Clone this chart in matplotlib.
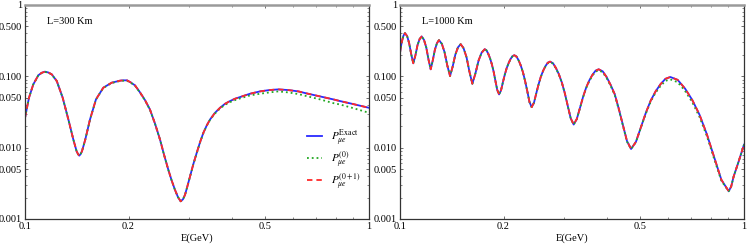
import matplotlib
matplotlib.use("Agg")
import matplotlib.pyplot as plt
from matplotlib.ticker import FixedLocator, FixedFormatter, LogLocator, NullFormatter

plt.rcParams['font.family'] = 'serif'
plt.rcParams['font.serif'] = ['Liberation Serif', 'DejaVu Serif']
plt.rcParams['mathtext.fontset'] = 'stix'

# L = 300 km
e_300 = [0.1000, 0.1027, 0.1057, 0.1093, 0.1118, 0.1143, 0.1169, 0.1196, 0.1237, 0.1287,
         0.1337, 0.1382, 0.1413, 0.1426, 0.1438, 0.1451, 0.1464, 0.1497, 0.1545, 0.1608,
         0.1689, 0.1786, 0.1888, 0.1931, 0.1979, 0.2028, 0.2088, 0.2160, 0.2233, 0.2308,
         0.2387, 0.2469, 0.2536, 0.2610, 0.2669, 0.2729, 0.2785, 0.2835, 0.2879, 0.2918,
         0.2964, 0.3018, 0.3086, 0.3155, 0.3227, 0.3299, 0.3374, 0.3450, 0.3567, 0.3689,
         0.3814, 0.3944, 0.4078, 0.4217, 0.4509, 0.4822, 0.5132, 0.5449, 0.5828, 0.6231,
         0.6589, 0.7204, 0.7876, 0.8236, 0.9005, 1.0]
p_exact_300 = [0.0262, 0.0501, 0.0771, 0.1033, 0.1120, 0.1163, 0.1132, 0.1067, 0.0860, 0.0501,
               0.0248, 0.0130, 0.00888, 0.00814, 0.00772, 0.00814, 0.00888, 0.0130, 0.0248, 0.0475,
               0.0693, 0.0814, 0.0869, 0.0879, 0.0879, 0.0823, 0.0747, 0.0595, 0.0464, 0.0343,
               0.0218, 0.0130, 0.00797, 0.00490, 0.00347, 0.00256, 0.00202, 0.00177, 0.00189, 0.00218,
               0.00285, 0.00395, 0.00589, 0.00841, 0.0119, 0.0161, 0.0204, 0.0248, 0.0308, 0.0362,
               0.0412, 0.0450, 0.0485, 0.0512, 0.0570, 0.0615, 0.0642, 0.0656, 0.0642, 0.0615,
               0.0576, 0.0523, 0.0475, 0.0450, 0.0408, 0.0362]
p_zero_300 = [0.0262, 0.0501, 0.0771, 0.1030, 0.1115, 0.1155, 0.1125, 0.1060, 0.0855, 0.0499,
              0.0247, 0.0130, 0.00888, 0.00814, 0.00772, 0.00814, 0.00888, 0.0130, 0.0247, 0.0472,
              0.0688, 0.0806, 0.0860, 0.0868, 0.0868, 0.0815, 0.0740, 0.0590, 0.0460, 0.0340,
              0.0217, 0.0129, 0.00794, 0.00488, 0.00346, 0.00255, 0.00202, 0.00177, 0.00189, 0.00217,
              0.00284, 0.00392, 0.00584, 0.00832, 0.0118, 0.0159, 0.0202, 0.0245, 0.0301, 0.0354,
              0.0399, 0.0435, 0.0464, 0.0490, 0.0540, 0.0570, 0.0595, 0.0615, 0.0595, 0.0564,
              0.0528, 0.0475, 0.0421, 0.0403, 0.0358, 0.0308]
p_first_300 = p_exact_300

# L = 1000 km
e_1000 = [0.1000, 0.1011, 0.1023, 0.1034, 0.1049, 0.1063, 0.1078, 0.1093, 0.1109, 0.1124,
          0.1140, 0.1156, 0.1174, 0.1192, 0.1210, 0.1228, 0.1245, 0.1263, 0.1281, 0.1298,
          0.1323, 0.1347, 0.1372, 0.1398, 0.1423, 0.1448, 0.1474, 0.1501, 0.1530, 0.1561,
          0.1592, 0.1623, 0.1657, 0.1692, 0.1727, 0.1763, 0.1784, 0.1805, 0.1827, 0.1849,
          0.1872, 0.1894, 0.1917, 0.1941, 0.1966, 0.1990, 0.2016, 0.2042, 0.2069, 0.2095,
          0.2122, 0.2150, 0.2181, 0.2213, 0.2245, 0.2278, 0.2311, 0.2346, 0.2379, 0.2414,
          0.2452, 0.2489, 0.2528, 0.2567, 0.2607, 0.2647, 0.2688, 0.2730, 0.2784, 0.2839,
          0.2896, 0.2954, 0.3013, 0.3073, 0.3135, 0.3198, 0.3265, 0.3335, 0.3405, 0.3477,
          0.3551, 0.3626, 0.3702, 0.3780, 0.3884, 0.3990, 0.4100, 0.4212, 0.4328, 0.4447,
          0.4569, 0.4696, 0.4851, 0.5013, 0.5181, 0.5353, 0.5533, 0.5719, 0.5910, 0.6106,
          0.6413, 0.6735, 0.7070, 0.7424, 0.7796, 0.8186, 0.8594, 0.9026, 0.9177, 0.9332,
          0.9650, 1.0]
p_exact_1000 = [0.2154, 0.2980, 0.3700, 0.4034, 0.3660, 0.2926, 0.2041, 0.1524, 0.1976, 0.2721,
                0.3320, 0.3621, 0.3256, 0.2553, 0.1724, 0.1255, 0.1664, 0.2357, 0.2926, 0.3214,
                0.2863, 0.2194, 0.1430, 0.1011, 0.1375, 0.2010, 0.2547, 0.2822, 0.2484, 0.1854,
                0.1156, 0.0788, 0.1101, 0.1663, 0.2147, 0.2401, 0.2314, 0.2074, 0.1793, 0.1482,
                0.1157, 0.0864, 0.0646, 0.0558, 0.0633, 0.0815, 0.1050, 0.1302, 0.1534, 0.1741,
                0.1915, 0.1976, 0.1894, 0.1671, 0.1413, 0.1136, 0.0855, 0.0611, 0.0437, 0.0370,
                0.0428, 0.0575, 0.0771, 0.0990, 0.1199, 0.1389, 0.1551, 0.1609, 0.1529, 0.1313,
                0.1072, 0.0823, 0.0583, 0.0388, 0.0258, 0.0211, 0.0252, 0.0360, 0.0514, 0.0696,
                0.0878, 0.1050, 0.1200, 0.1255, 0.1176, 0.0970, 0.0750, 0.0558, 0.0347, 0.0207,
                0.01239, 0.00958, 0.01208, 0.0192, 0.0306, 0.0455, 0.0615, 0.0776, 0.0923, 0.0979,
                0.0893, 0.0677, 0.0468, 0.0290, 0.01549, 0.00741, 0.00355, 0.00245, 0.00285, 0.00395,
                0.00642, 0.01102]
p_zero_1000 = [0.2154, 0.2980, 0.3700, 0.4034, 0.3660, 0.2926, 0.2041, 0.1524, 0.1976, 0.2721,
               0.3320, 0.3621, 0.3256, 0.2553, 0.1724, 0.1255, 0.1664, 0.2357, 0.2926, 0.3214,
               0.2863, 0.2194, 0.1430, 0.1011, 0.1375, 0.2010, 0.2547, 0.2822, 0.2484, 0.1854,
               0.1156, 0.0788, 0.1101, 0.1663, 0.2147, 0.2401, 0.2314, 0.2074, 0.1793, 0.1482,
               0.1157, 0.0864, 0.0646, 0.0558, 0.0633, 0.0815, 0.1050, 0.1302, 0.1534, 0.1741,
               0.1900, 0.1960, 0.1880, 0.1660, 0.1405, 0.1130, 0.0850, 0.0608, 0.0435, 0.0370,
               0.0426, 0.0572, 0.0766, 0.0980, 0.1185, 0.1368, 0.1524, 0.1575, 0.1505, 0.1297,
               0.1056, 0.0815, 0.0578, 0.0385, 0.0257, 0.0211, 0.0251, 0.0357, 0.0508, 0.0685,
               0.0860, 0.1022, 0.1163, 0.1215, 0.1139, 0.0937, 0.0727, 0.0540, 0.0338, 0.0203,
               0.01215, 0.00958, 0.01195, 0.0190, 0.0298, 0.0440, 0.0589, 0.0731, 0.0864, 0.0907,
               0.0828, 0.0628, 0.0435, 0.0270, 0.0146, 0.00700, 0.00343, 0.00245, 0.00285, 0.00395,
               0.00642, 0.01102]
p_first_1000 = p_exact_1000

y_ticks = [0.001, 0.005, 0.01, 0.05, 0.1, 0.5, 1]
y_labels = ['0.001', '0.005', '0.010', '0.050', '0.100', '0.500', '1']
x_ticks = [0.1, 0.2, 0.5, 1]
x_labels = ['0.1', '0.2', '0.5', '1']

fig = plt.figure(figsize=(7.47, 2.48), dpi=100)
ax1 = fig.add_axes([25 / 747, 29 / 248, 344 / 747, 214 / 248])
ax2 = fig.add_axes([400 / 747, 29 / 248, 344 / 747, 214 / 248])

panels = [(ax1, e_300, p_exact_300, p_zero_300, p_first_300, 'L=300 Km'),
          (ax2, e_1000, p_exact_1000, p_zero_1000, p_first_1000, 'L=1000 Km')]

for ax, e, pex, p0, p01, title in panels:
    ax.plot(e, pex, color='#2a2aff', lw=1.3, ls='-', label=r'$P_{\mu e}^{\rm Exact}$')
    ax.plot(e, p0, color='#22a822', lw=1.3, ls=':', label=r'$P_{\mu e}^{(0)}$')
    ax.plot(e, p01, color='#ff2a2a', lw=1.3, ls=(0, (3, 2.2)), label=r'$P_{\mu e}^{(0+1)}$')
    ax.set_xscale('log')
    ax.set_yscale('log')
    ax.set_xlim(0.1, 1)
    ax.set_ylim(0.001, 1)
    ax.xaxis.set_major_locator(FixedLocator(x_ticks))
    ax.xaxis.set_major_formatter(FixedFormatter(x_labels))
    ax.xaxis.set_minor_locator(LogLocator(base=10, subs=range(2, 10)))
    ax.xaxis.set_minor_formatter(NullFormatter())
    ax.yaxis.set_major_locator(FixedLocator(y_ticks))
    ax.yaxis.set_major_formatter(FixedFormatter(y_labels))
    ax.yaxis.set_minor_locator(LogLocator(base=10, subs=range(2, 10)))
    ax.yaxis.set_minor_formatter(NullFormatter())
    ax.tick_params(which='both', direction='in', top=True, right=True, labelsize=7.5,
                   pad=2, color='#555555')
    ax.tick_params(which='major', length=2.5, width=0.6)
    ax.tick_params(which='minor', length=1.5, width=0.5)
    for s in ['left', 'right', 'bottom']:
        ax.spines[s].set_linewidth(0.9)
        ax.spines[s].set_color('#333333')
    ax.spines['top'].set_color('#9a9a9a')
    ax.spines['top'].set_linewidth(1.8)
    ax.set_xlabel('E(GeV)', fontsize=7.5, labelpad=2)
    ax.text(0.065, 0.925, title, transform=ax.transAxes, fontsize=7.5, va='center', ha='left')

ax1.legend(loc='lower right', bbox_to_anchor=(0.99, 0.11), frameon=False, fontsize=8,
           handlelength=1.4, handletextpad=0.8, labelspacing=0.15, borderaxespad=0)

fig.savefig('out.png', dpi=100)
